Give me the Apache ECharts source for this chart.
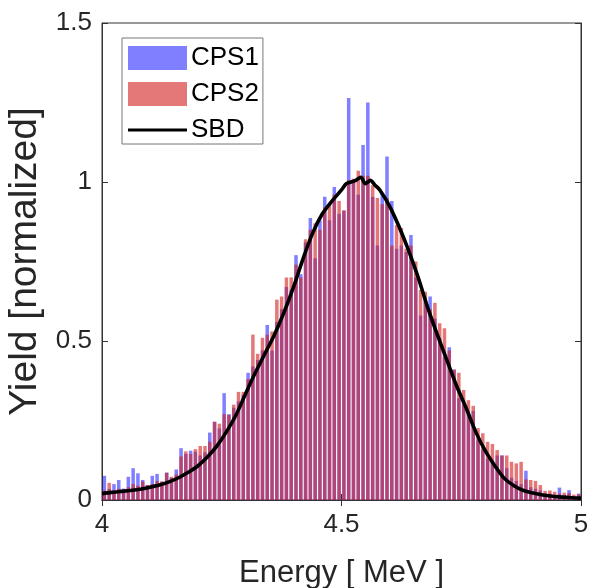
<!DOCTYPE html>
<html><head><meta charset="utf-8">
<script src="https://cdn.jsdelivr.net/npm/echarts@6/dist/echarts.min.js"></script>
<style>html,body{margin:0;padding:0;background:#fff}#c{width:589px;height:588px}</style>
</head><body><div id="c"></div>
<script>
// Histogram bins: 100 bins of 0.01 MeV from 4.00 to 5.00
const binStart = 4.0;
const binWidth = 0.01;
const cps1 = [
0.076,0.035,0.050,0.063,0.036,0.073,0.100,0.084,0.063,0.047,
0.076,0.082,0.058,0.086,0.070,0.096,0.163,0.145,0.155,0.152,
0.140,0.150,0.212,0.246,0.225,0.336,0.270,0.290,0.310,0.330,
0.400,0.420,0.440,0.470,0.550,0.470,0.560,0.600,0.670,0.660,
0.770,0.710,0.810,0.887,0.760,0.880,0.954,0.880,0.984,0.900,
0.910,1.264,1.000,0.960,1.116,1.250,0.953,0.800,0.965,1.080,
0.940,0.790,0.800,0.780,0.833,0.700,0.580,0.630,0.640,0.570,
0.510,0.450,0.480,0.410,0.320,0.300,0.270,0.280,0.190,0.160,
0.130,0.120,0.140,0.140,0.100,0.070,0.060,0.050,0.092,0.040,
0.035,0.030,0.020,0.020,0.015,0.039,0.015,0.031,0.012,0.020];
const cps2 = [
0.030,0.054,0.030,0.035,0.030,0.040,0.050,0.045,0.058,0.047,
0.050,0.060,0.058,0.086,0.073,0.080,0.137,0.153,0.145,0.160,
0.170,0.170,0.183,0.246,0.240,0.270,0.267,0.300,0.340,0.340,
0.380,0.520,0.460,0.510,0.520,0.530,0.630,0.640,0.700,0.700,
0.740,0.700,0.820,0.850,0.870,0.850,0.920,0.928,0.960,0.940,
0.910,1.006,1.010,1.035,1.020,1.020,0.990,0.950,0.930,0.950,
0.800,0.865,0.855,0.790,0.800,0.750,0.660,0.655,0.600,0.620,
0.556,0.540,0.470,0.410,0.400,0.346,0.314,0.296,0.226,0.210,
0.183,0.176,0.157,0.140,0.140,0.120,0.115,0.120,0.065,0.063,
0.060,0.047,0.029,0.030,0.026,0.020,0.023,0.022,0.017,0.018];
// SBD reference spectrum
const sbdEnergy = [4.00,4.02,4.04,4.06,4.08,4.10,4.12,4.14,4.16,4.18,4.20,4.22,4.24,4.26,4.28,4.30,4.32,4.34,4.36,4.38,4.40,4.42,4.44,4.46,4.48,4.50,4.51,4.52,4.53,4.54,4.55,4.56,4.57,4.58,4.60,4.62,4.64,4.66,4.68,4.70,4.72,4.74,4.76,4.78,4.80,4.82,4.84,4.86,4.88,4.90,4.92,4.94,4.96,4.98,5.00];
const sbdYield  = [0.020,0.024,0.027,0.030,0.034,0.040,0.047,0.057,0.070,0.087,0.107,0.135,0.170,0.215,0.268,0.335,0.400,0.460,0.520,0.590,0.670,0.760,0.840,0.900,0.940,0.975,0.995,1.000,1.005,1.015,0.995,1.005,0.990,0.975,0.925,0.860,0.785,0.700,0.605,0.520,0.440,0.360,0.290,0.215,0.155,0.108,0.068,0.045,0.030,0.022,0.016,0.012,0.009,0.007,0.006];
const xTicks = [4, 4.5, 5];
const yTicks = [0, 0.5, 1, 1.5];

const centers = cps1.map((_, i) => +(binStart + binWidth * (i + 0.5)).toFixed(4));
const d1 = centers.map((x, i) => [x, cps1[i]]);
const d2 = centers.map((x, i) => [x, cps2[i]]);
const dl = sbdEnergy.map((x, i) => [x, sbdYield[i]]);

const axisCol = '#333';
const txtCol = '#262626';
const font = 'Liberation Sans, Arial, sans-serif';
const lineIcon = 'path://M0,0 L0,0 M0,10.5 L59,10.5 L59,13.5 L0,13.5 Z M59,24 L59,24';
const chart = echarts.init(document.getElementById('c'), null, {renderer: 'canvas'});
chart.setOption({
  animation: false,
  backgroundColor: '#fff',
  textStyle: {fontFamily: font},
  grid: {left: 102, right: 8, top: 23, bottom: 88, show: true, borderColor: axisCol, borderWidth: 1,
         containLabel: false, outerBoundsMode: 'none'},
  legend: {
    left: 122, top: 38, orient: 'vertical',
    itemWidth: 59, itemHeight: 24, itemGap: 10,
    padding: [7, 4, 1, 6],
    borderColor: '#777', borderWidth: 1, backgroundColor: '#fff',
    textStyle: {fontSize: 26, color: '#000', fontFamily: font, padding: [0, 0, 0, -1]},
    data: [{name: 'CPS1', icon: 'rect'}, {name: 'CPS2', icon: 'rect'}, {name: 'SBD', icon: lineIcon}]
  },
  xAxis: [{
    type: 'value', min: xTicks[0], max: xTicks[2], interval: 0.5,
    name: 'Energy [ MeV ]', nameLocation: 'middle', nameGap: 58,
    nameTextStyle: {fontSize: 31, color: txtCol, fontFamily: font},
    axisLine: {show: true, lineStyle: {color: axisCol}},
    axisTick: {show: true, inside: true, length: 6, lineStyle: {color: axisCol}},
    axisLabel: {fontSize: 26, color: txtCol, margin: 12, fontFamily: font},
    splitLine: {show: false}
  }, {
    type: 'value', position: 'top', min: xTicks[0], max: xTicks[2], interval: 0.5,
    axisLine: {show: true, lineStyle: {color: axisCol}},
    axisTick: {show: true, inside: true, length: 6, lineStyle: {color: axisCol}},
    axisLabel: {show: false}, splitLine: {show: false}
  }],
  yAxis: [{
    type: 'value', min: yTicks[0], max: yTicks[3], interval: 0.5,
    name: 'Yield [normalized]', nameLocation: 'middle', nameGap: 53,
    nameTextStyle: {fontSize: 39, color: txtCol, fontFamily: font},
    axisLine: {show: true, lineStyle: {color: axisCol}},
    axisTick: {show: true, inside: true, length: 6, lineStyle: {color: axisCol}},
    axisLabel: {fontSize: 26, color: txtCol, margin: 10, fontFamily: font},
    splitLine: {show: false}
  }, {
    type: 'value', position: 'right', min: yTicks[0], max: yTicks[3], interval: 0.5,
    axisLine: {show: true, lineStyle: {color: axisCol}},
    axisTick: {show: true, inside: true, length: 6, lineStyle: {color: axisCol}},
    axisLabel: {show: false}, splitLine: {show: false}
  }],
  series: [{
    name: 'CPS1', type: 'bar', data: d1, barWidth: 3.5, barGap: '-100%',
    itemStyle: {color: 'rgba(0,0,255,0.5)'}
  }, {
    name: 'CPS2', type: 'bar', data: d2, barWidth: 3.5, barGap: '-100%',
    itemStyle: {color: 'rgba(210,30,30,0.6)'}
  }, {
    name: 'SBD', type: 'line', data: dl, smooth: 0.3, symbol: 'none', z: 5,
    lineStyle: {color: '#000', width: 3.6}, itemStyle: {color: '#000'}
  }]
});
</script></body></html>
